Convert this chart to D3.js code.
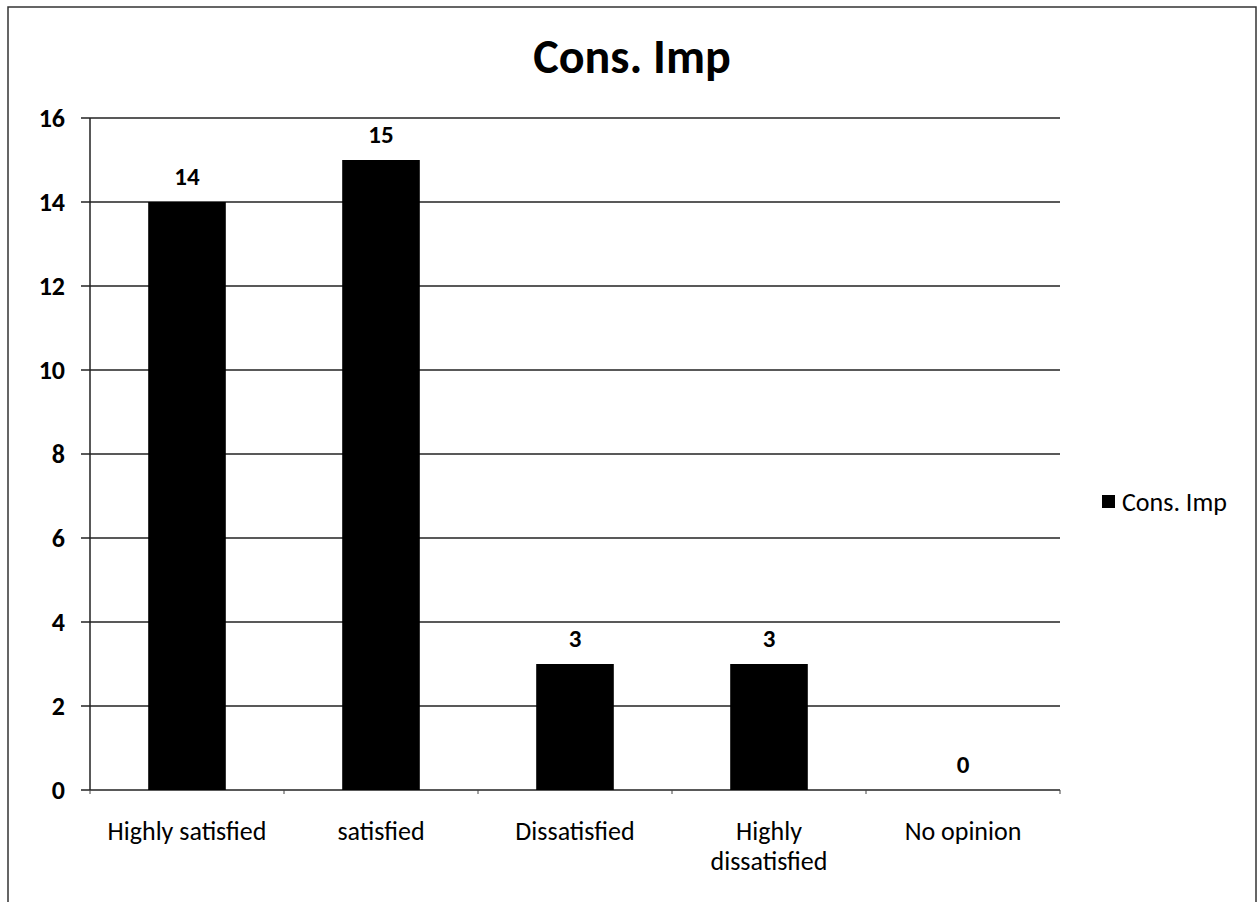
<!DOCTYPE html>
<html>
<head>
<meta charset="utf-8">
<script src="https://cdn.jsdelivr.net/npm/d3@7"></script>
<style>
  body { margin: 0; background: #fff; }
  svg { font-family: Carlito, Lato, sans-serif; }
</style>
</head>
<body>
<svg width="1257" height="902"></svg>
<script>
// data
const categories = ["Highly satisfied", "satisfied", "Dissatisfied", "Highly dissatisfied", "No opinion"];
const values = [14, 15, 3, 3, 0];
const yTicks = [0, 2, 4, 6, 8, 10, 12, 14, 16];
const seriesName = "Cons. Imp";

// category labels wrap the same way Excel did
const catLines = {
    "Highly dissatisfied": ["Highly", "dissatisfied"]
};

function drawChart() {
    var svg = d3.select('svg');
    var left = 90, right = 1060, plotTop = 118, plotBottom = 790;

    // outer frame
    svg.append('rect')
        .attr('x', 8).attr('y', 7)
        .attr('width', 1248).attr('height', 910)
        .attr('fill', 'none')
        .attr('stroke', '#333')
        .attr('stroke-width', 1.5);

    svg.append('text')
        .attr('x', 632).attr('y', 73)
        .attr('text-anchor', 'middle')
        .style('font-size', '48px')
        .style('font-weight', 'bold')
        .text(seriesName);

    var x = d3.scaleBand()
        .domain(categories)
        .range([left, right])
        .paddingInner(0.6)
        .paddingOuter(0.3);

    var y = d3.scaleLinear()
        .domain([0, 16])
        .range([plotBottom, plotTop]);

    // gridlines
    svg.append('g')
        .selectAll('line')
        .data(yTicks)
        .enter()
        .append('line')
        .attr('x1', left - 9)
        .attr('x2', right)
        .attr('y1', d => y(d))
        .attr('y2', d => y(d))
        .style('stroke', '#222')
        .style('stroke-width', 1.5);

    // y axis line
    svg.append('line')
        .attr('x1', left).attr('x2', left)
        .attr('y1', plotTop).attr('y2', plotBottom)
        .style('stroke', '#222')
        .style('stroke-width', 1.5);

    // y labels
    svg.append('g')
        .selectAll('text')
        .data(yTicks)
        .enter()
        .append('text')
        .attr('x', 65)
        .attr('y', d => y(d))
        .attr('dy', '0.35em')
        .attr('text-anchor', 'end')
        .style('font-size', '26px')
        .style('font-weight', 'bold')
        .text(d => d);

    // small ticks between categories
    var step = x.step();
    var boundaries = d3.range(categories.length + 1).map(i => left + i * step);
    svg.append('g')
        .selectAll('line')
        .data(boundaries)
        .enter()
        .append('line')
        .attr('x1', d => d).attr('x2', d => d)
        .attr('y1', plotBottom).attr('y2', plotBottom + 4)
        .style('stroke', '#444')
        .style('stroke-width', 1);

    // bars
    svg.append('g')
        .selectAll('rect')
        .data(values)
        .enter()
        .append('rect')
        .attr('x', (d, i) => x(categories[i]))
        .attr('y', d => y(d))
        .attr('width', x.bandwidth())
        .attr('height', d => plotBottom - y(d))
        .attr('fill', '#000');

    // value labels
    svg.append('g')
        .selectAll('text')
        .data(values)
        .enter()
        .append('text')
        .attr('x', (d, i) => x(categories[i]) + x.bandwidth() / 2)
        .attr('y', d => y(d) - 17)
        .attr('text-anchor', 'middle')
        .style('font-size', '25px')
        .style('font-weight', 'bold')
        .text(d => d);

    // category labels
    var cat = svg.append('g')
        .selectAll('text')
        .data(categories)
        .enter()
        .append('text')
        .attr('x', d => x(d) + x.bandwidth() / 2)
        .attr('y', 840)
        .attr('text-anchor', 'middle')
        .style('font-size', '26px');

    cat.each(function(d) {
        var lines = catLines[d] || [d];
        var t = d3.select(this);
        lines.forEach(function(l, i) {
            t.append('tspan')
                .attr('x', x(d) + x.bandwidth() / 2)
                .attr('dy', i == 0 ? 0 : 30)
                .text(l);
        });
    });

    // legend
    svg.append('rect')
        .attr('x', 1102).attr('y', 495)
        .attr('width', 13).attr('height', 13)
        .attr('fill', '#000');
    svg.append('text')
        .attr('x', 1122).attr('y', 511)
        .style('font-size', '26px')
        .text(seriesName);
}

drawChart();
</script>
</body>
</html>
